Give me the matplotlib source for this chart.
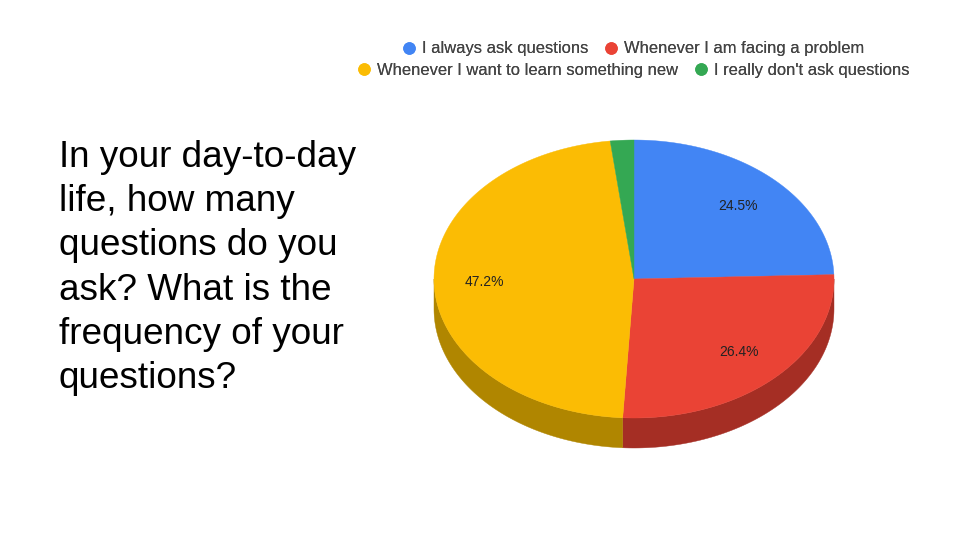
import numpy as np
from matplotlib import pyplot as plt
from matplotlib.patches import Polygon
from matplotlib.lines import Line2D

labels = ['I always ask questions', 'Whenever I am facing a problem',
          'Whenever I want to learn something new', "I really don't ask questions"]
values = [24.5, 26.4, 47.2, 1.9]
colors = ['#4285F4', '#EA4335', '#FBBC04', '#34A853']
side_colors = ['#2E5DAA', '#A52E24', '#B08600', '#247539']
pct_labels = ['24.5%', '26.4%', '47.2%', '']

title_lines = ['In your day-to-day', 'life, how many', 'questions do you',
               'ask? What is the', 'frequency of your', 'questions?']

plt.rcParams['font.family'] = ['Liberation Sans', 'DejaVu Sans']


def ellipse_pts(t, cx, cy, a, b):
    return cx + a*np.sin(t), cy - b*np.cos(t)


def main():
    fig = plt.figure(figsize=(9.6, 5.4), dpi=100)
    ax = fig.add_axes([0, 0, 1, 1])
    ax.set_xlim(0, 960)
    ax.set_ylim(540, 0)
    ax.axis('off')

    # pie geometry in pixel units
    cx, cy, a, b, depth = 634, 279, 200, 139, 30

    frac = np.array(values)/np.sum(values)
    edges = np.concatenate([[0], np.cumsum(frac)])*2*np.pi

    # side walls (front half only)
    for i in range(len(values)):
        t0 = max(edges[i], np.pi/2)
        t1 = min(edges[i+1], 3*np.pi/2)
        if t1 <= t0:
            continue
        t = np.linspace(t0, t1, 100)
        x, y = ellipse_pts(t, cx, cy, a, b)
        pts = np.concatenate([np.column_stack([x, y]),
                              np.column_stack([x[::-1], y[::-1] + depth])])
        ax.add_patch(Polygon(pts, closed=True, facecolor=side_colors[i],
                             edgecolor=side_colors[i], linewidth=0.3, zorder=1))

    # top faces
    for i in range(len(values)):
        t = np.linspace(edges[i], edges[i+1], 200)
        x, y = ellipse_pts(t, cx, cy, a, b)
        pts = np.vstack([[cx, cy], np.column_stack([x, y])])
        ax.add_patch(Polygon(pts, closed=True, facecolor=colors[i],
                             edgecolor=colors[i], linewidth=0.3, zorder=2))
        if pct_labels[i]:
            tm = (edges[i] + edges[i+1])/2
            lx, ly = ellipse_pts(tm, cx, cy, a*0.75, b*0.73)
            ax.text(lx, ly, pct_labels[i], ha='center', va='center',
                    fontsize=10, color='#222222', zorder=3)

    # question text
    for k, line in enumerate(title_lines):
        ax.text(59, 167 + 44.2*k, line, ha='left', va='baseline',
                fontsize=26.6, color='black')

    # legend, two centred rows
    handles = [Line2D([], [], marker='o', linestyle='', markersize=9,
                      markeredgewidth=0, color=c) for c in colors]
    rows = [(0, 1, 49), (2, 3, 70)]
    for i, j, yy in rows:
        leg = fig.legend([handles[i], handles[j]], [labels[i], labels[j]],
                         loc='center', bbox_to_anchor=(634/960, 1 - yy/540),
                         ncol=2, frameon=False, fontsize=11.9,
                         handlelength=0.7, handletextpad=0.45,
                         columnspacing=1.0, borderpad=0, labelcolor='#444444')
        fig.add_artist(leg)

    fig.savefig('out.png', dpi=100, facecolor='white')


if __name__ == '__main__':
    main()
